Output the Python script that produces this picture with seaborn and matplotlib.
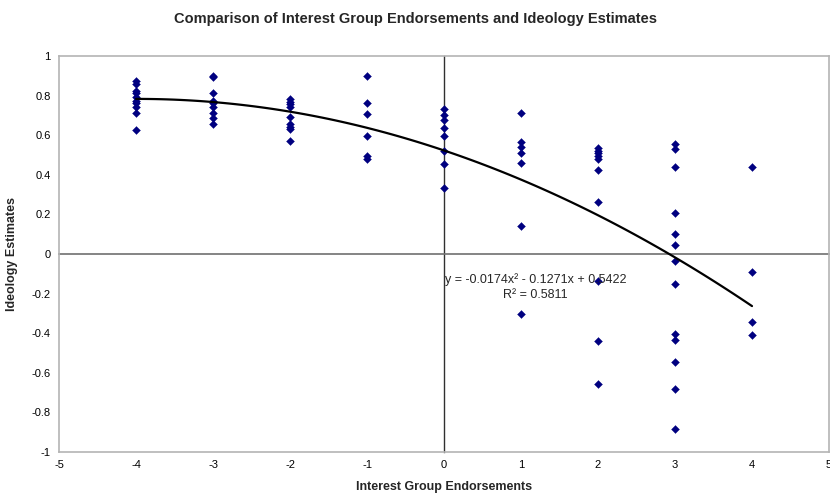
import matplotlib
matplotlib.use("Agg")
import matplotlib.pyplot as plt
import matplotlib.ticker as mticker
import seaborn as sns
import numpy as np
import pandas as pd

# ---- data ----
endorse_m4 = [0.875, 0.859, 0.825, 0.815, 0.792, 0.775, 0.761, 0.741, 0.714, 0.626]
endorse_m3 = [0.899, 0.893, 0.811, 0.775, 0.765, 0.744, 0.714, 0.685, 0.657]
endorse_m2 = [0.781, 0.769, 0.758, 0.744, 0.693, 0.657, 0.643, 0.630, 0.572]
endorse_m1 = [0.899, 0.764, 0.705, 0.596, 0.497, 0.478]
endorse_0 = [0.732, 0.702, 0.677, 0.635, 0.596, 0.522, 0.455, 0.332]
endorse_p1 = [0.714, 0.567, 0.539, 0.509, 0.461, 0.141, -0.303]
endorse_p2 = [0.534, 0.522, 0.509, 0.495, 0.478, 0.424, 0.264, -0.136, -0.438, -0.658]
endorse_p3 = [0.556, 0.530, 0.438, 0.209, 0.101, 0.045, -0.034, -0.150, -0.404,
              -0.434, -0.545, -0.680, -0.886]
endorse_p4 = [0.438, -0.089, -0.342, -0.411]

groups = {-4: endorse_m4, -3: endorse_m3, -2: endorse_m2, -1: endorse_m1, 0: endorse_0,
          1: endorse_p1, 2: endorse_p2, 3: endorse_p3, 4: endorse_p4}

x_ticks = [-5, -4, -3, -2, -1, 0, 1, 2, 3, 4, 5]
y_ticks = [-1, -0.8, -0.6, -0.4, -0.2, 0, 0.2, 0.4, 0.6, 0.8, 1]

title = "Comparison of Interest Group Endorsements and Ideology Estimates"
xlabel = "Interest Group Endorsements"
ylabel = "Ideology Estimates"
eq_text = "y = -0.0174x² - 0.1271x + 0.5422\nR² = 0.5811"

df = pd.DataFrame([(k, v) for k, vals in groups.items() for v in vals],
                  columns=["endorsements", "ideology"])

# ---- style ----
sns.set_theme(style="white")
plt.rcParams["font.family"] = ["Liberation Sans", "DejaVu Sans"]

fig = plt.figure(figsize=(8.3, 4.93), dpi=100)
ax = fig.add_axes([0.0711, 0.0832, 0.9277, 0.8032])

sns.scatterplot(data=df, x="endorsements", y="ideology", ax=ax, marker="D",
                color="#000080", s=16, edgecolor="#000080", linewidth=0.3, zorder=3)
sns.regplot(data=df, x="endorsements", y="ideology", ax=ax, order=2, ci=None,
            scatter=False, truncate=True, line_kws=dict(color="black", lw=1.6, zorder=4))

ax.set_xlim(-5, 5)
ax.set_ylim(-1, 1)
ax.set_xticks(x_ticks)
ax.set_yticks(y_ticks)
ax.xaxis.set_major_formatter(mticker.FuncFormatter(lambda v, p: f"{v:g}"))
ax.yaxis.set_major_formatter(mticker.FuncFormatter(lambda v, p: f"{v:g}"))
ax.tick_params(axis="both", length=0, labelsize=8, colors="black", pad=6)
for sp in ax.spines.values():
    sp.set_color("#b4b4b4")
    sp.set_linewidth(1.2)

ax.set_xlabel(xlabel, fontsize=9, fontweight="bold", labelpad=8)
ax.set_ylabel(ylabel, fontsize=9, fontweight="bold", labelpad=10)
fig.suptitle(title, x=0.5, y=0.975, va="top", fontsize=10.5, fontweight="bold")

# overlay axes with axis lines crossing at zero (Excel style)
ax2 = fig.add_axes(ax.get_position(), sharex=ax, sharey=ax)
ax2.patch.set_visible(False)
ax2.spines["left"].set_position(("data", 0))
ax2.spines["bottom"].set_position(("data", 0))
ax2.spines["top"].set_visible(False)
ax2.spines["right"].set_visible(False)
ax2.spines["left"].set_color("#303030")
ax2.spines["bottom"].set_color("#707070")
ax2.spines["left"].set_linewidth(1.0)
ax2.spines["bottom"].set_linewidth(1.2)
ax2.tick_params(axis="both", direction="out", length=4, width=0.8, colors="#505050",
                labelleft=False, labelbottom=False)
ax2.set_zorder(ax.get_zorder() - 1)
ax.patch.set_visible(False)
ax2.set_xlabel("")
ax2.set_ylabel("")

ax.text(1.19, -0.098, eq_text, ha="center", va="top", fontsize=9, linespacing=1.3,
        zorder=5)

fig.savefig("out.png", dpi=100, facecolor="white")
